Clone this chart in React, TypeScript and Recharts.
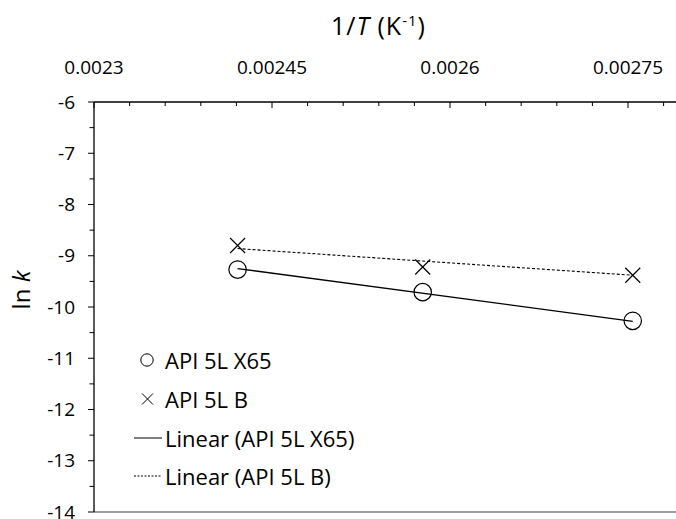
import { ScatterChart, Scatter, XAxis, YAxis, Legend, ReferenceLine } from "recharts";

// 1/T for 140, 115, 90 °C
const invT = [0.002421, 0.002577, 0.002754];
const lnkX65 = [-9.27, -9.71, -10.27];
const lnkB = [-8.8, -9.22, -9.38];

// trend line end points
const trendX = [0.002421, 0.002754];
const trendX65 = [-9.25, -10.28];
const trendB = [-8.86, -9.38];

const xMajor = [0.0023, 0.00245, 0.0026, 0.00275];
const xTicks = [
  0.0023, 0.00233, 0.00236, 0.00239, 0.00242, 0.00245, 0.00248, 0.00251, 0.00254, 0.00257,
  0.0026, 0.00263, 0.00266, 0.00269, 0.00272, 0.00275, 0.00278, 0.00281, 0.00284, 0.00287, 0.0029,
];
const yMajor = [-6, -7, -8, -9, -10, -11, -12, -13, -14];
const yTicks = [
  -6, -6.5, -7, -7.5, -8, -8.5, -9, -9.5, -10, -10.5, -11, -11.5, -12, -12.5, -13, -13.5, -14,
];

const names = ["API 5L X65", "API 5L B", "Linear (API 5L X65)", "Linear (API 5L B)"];

const FONT = "'Open Sans', sans-serif";
const PLOT_TOP = 102;
const PLOT_LEFT = 94;

const isIn = (v: number, list: number[]) => list.some((m) => Math.abs(m - v) < 1e-9);

const x65Data = invT.map((x, i) => ({ x, y: lnkX65[i] }));
const bData = invT.map((x, i) => ({ x, y: lnkB[i] }));
const trendX65Data = trendX.map((x, i) => ({ x, y: trendX65[i] }));
const trendBData = trendX.map((x, i) => ({ x, y: trendB[i] }));

const XTick = (props: any) => {
  const { x, payload } = props;
  const major = isIn(payload.value, xMajor);
  return (
    <g>
      <line x1={x} x2={x} y1={PLOT_TOP} y2={PLOT_TOP + (major ? 6 : 4)} stroke="#000" strokeWidth={1} />
      {major && (
        <text x={x} y={PLOT_TOP - 28} textAnchor="middle" fontSize={19} fill="#000" fontFamily={FONT}>
          {String(payload.value)}
        </text>
      )}
    </g>
  );
};

const YTick = (props: any) => {
  const { y, payload } = props;
  const major = isIn(payload.value, yMajor);
  return (
    <g>
      <line x1={PLOT_LEFT - (major ? 6 : 4.5)} x2={PLOT_LEFT} y1={y} y2={y} stroke="#000" strokeWidth={1} />
      {major && (
        <text x={75} y={y + 6.5} textAnchor="end" fontSize={19} fill="#000" fontFamily={FONT}>
          {String(payload.value)}
        </text>
      )}
    </g>
  );
};

const Circle = (props: any) => (
  <circle cx={props.cx} cy={props.cy} r={8.7} fill="none" stroke="#000" strokeWidth={1.2} />
);

const Cross = (props: any) => {
  const { cx, cy } = props;
  const s = 7.5;
  return (
    <g stroke="#000" strokeWidth={1.2}>
      <line x1={cx - s} y1={cy - s} x2={cx + s} y2={cy + s} />
      <line x1={cx - s} y1={cy + s} x2={cx + s} y2={cy - s} />
    </g>
  );
};

const NoDot = () => <g />;

const legendIcon = (name: string) => {
  if (name === names[0]) return <circle cx={13} cy={10} r={6.2} fill="none" stroke="#000" strokeWidth={1} />;
  if (name === names[1])
    return (
      <g stroke="#000" strokeWidth={1}>
        <line x1={8} y1={4.5} x2={19} y2={15.5} />
        <line x1={8} y1={15.5} x2={19} y2={4.5} />
      </g>
    );
  if (name === names[2]) return <line x1={0} x2={28} y1={10} y2={10} stroke="#000" strokeWidth={1} />;
  return <line x1={0} x2={28} y1={10} y2={10} stroke="#000" strokeWidth={1} strokeDasharray="2 1.5" />;
};

const LegendContent = (props: any) => {
  const items = [...(props.payload || [])].sort(
    (a: any, b: any) => names.indexOf(a.value) - names.indexOf(b.value)
  );
  return (
    <div style={{ fontFamily: FONT, fontSize: 22, color: "#000" }}>
      {items.map((p: any) => (
        <div key={p.value} style={{ height: 38.7, display: "flex", alignItems: "center" }}>
          <svg width={31} height={20} style={{ flex: "none" }}>
            {legendIcon(p.value)}
          </svg>
          <span style={{ whiteSpace: "nowrap" }}>{p.value}</span>
        </div>
      ))}
    </div>
  );
};

const App = () => {
  return (
    <div
      style={{
        position: "fixed",
        left: 0,
        top: 0,
        width: 676,
        height: 519,
        overflow: "hidden",
        background: "#fff",
        fontFamily: FONT,
      }}
    >
      <ScatterChart width={820} height={519} margin={{ top: 42, right: 14, bottom: 7, left: 34 }}>
        <XAxis
          type="number"
          dataKey="x"
          orientation="top"
          domain={[0.0023, 0.0029]}
          ticks={xTicks}
          interval={0}
          height={60}
          tickSize={0}
          tickLine={false}
          tick={<XTick />}
          axisLine={{ stroke: "#000", strokeWidth: 1.3 }}
          allowDataOverflow
          label={{
            content: () => (
              <text x={331} y={35} fontSize={25} letterSpacing={1} fill="#000" fontFamily={FONT}>
                1/<tspan fontStyle="italic">T</tspan> (K
                <tspan dy={-9} fontSize={15}>-1</tspan>
                <tspan dy={9}>)</tspan>
              </text>
            ),
          }}
        />
        <YAxis
          type="number"
          dataKey="y"
          domain={[-14, -6]}
          ticks={yTicks}
          interval={0}
          width={60}
          tickSize={0}
          tickLine={false}
          tick={<YTick />}
          axisLine={{ stroke: "#000", strokeWidth: 1.3 }}
          allowDataOverflow
          label={{
            content: () => (
              <text
                x={0}
                y={0}
                transform="translate(30 290) rotate(-90)"
                textAnchor="middle"
                fontSize={24}
                fill="#000"
                fontFamily={FONT}
              >
                ln <tspan fontStyle="italic">k</tspan>
              </text>
            ),
          }}
        />
        <ReferenceLine y={-14} stroke="#7f7f7f" strokeWidth={1.5} />
        <Legend
          layout="vertical"
          align="center"
          verticalAlign="middle"
          content={<LegendContent />}
          wrapperStyle={{ left: 134, top: 341, width: "auto" }}
        />
        <Scatter
          name={names[2]}
          data={trendX65Data}
          line={{ stroke: "#000", strokeWidth: 1.3 }}
          shape={<NoDot />}
          isAnimationActive={false}
        />
        <Scatter
          name={names[3]}
          data={trendBData}
          line={{ stroke: "#000", strokeWidth: 1.1, strokeDasharray: "3 2" }}
          shape={<NoDot />}
          isAnimationActive={false}
        />
        <Scatter name={names[0]} data={x65Data} shape={<Circle />} isAnimationActive={false} />
        <Scatter name={names[1]} data={bData} shape={<Cross />} isAnimationActive={false} />
      </ScatterChart>
    </div>
  );
};

export default App;
